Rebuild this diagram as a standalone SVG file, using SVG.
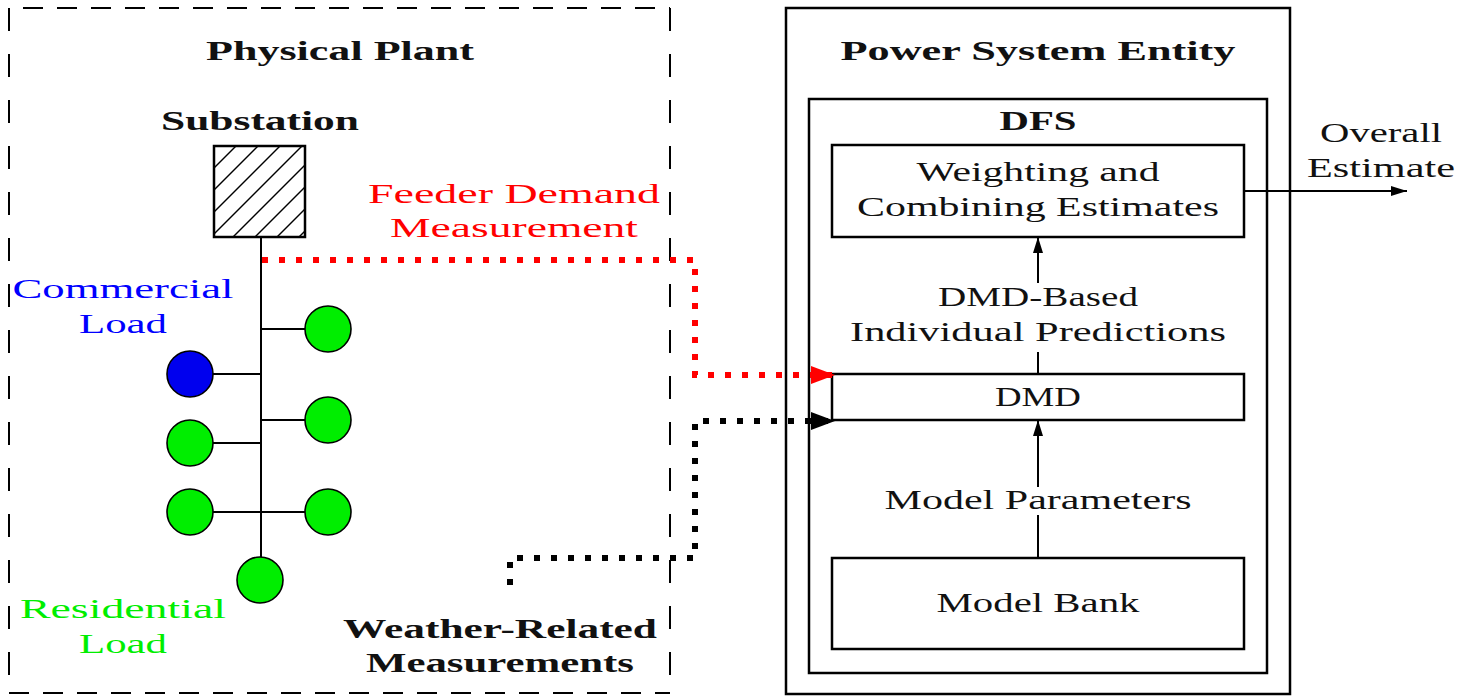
<svg xmlns="http://www.w3.org/2000/svg" width="1461" height="699" viewBox="0 0 1461 699">
<style>
text{font-family:"Liberation Serif","Times New Roman",serif;font-size:27px;text-anchor:middle;fill:#111}
.b{font-weight:bold}
.box{fill:none;stroke:#000;stroke-width:2.5}
.ln{fill:none;stroke:#000;stroke-width:2}
.g{fill:#00ee00;stroke:#000;stroke-width:1.6}
.bl{fill:#0000ee;stroke:#000;stroke-width:1.6}
.red{fill:none;stroke:#ff0000;stroke-width:6;stroke-dasharray:6 11}
.blk{fill:none;stroke:#000;stroke-width:6;stroke-dasharray:6 11}
</style>
<defs>
<marker id="ah" viewBox="0 0 16 10" refX="16" refY="5" markerWidth="16" markerHeight="10" markerUnits="userSpaceOnUse" orient="auto"><path d="M0,0 L16,5 L0,10 Z" fill="#000"/></marker>
<marker id="bigk" viewBox="0 0 24 18" refX="21" refY="9" markerWidth="24" markerHeight="18" markerUnits="userSpaceOnUse" orient="auto"><path d="M0,0 L24,9 L0,18 Z" fill="#000"/></marker>
<marker id="bigr" viewBox="0 0 24 18" refX="21" refY="9" markerWidth="24" markerHeight="18" markerUnits="userSpaceOnUse" orient="auto"><path d="M0,0 L24,9 L0,18 Z" fill="#ff0000"/></marker>
</defs>

<g id="physical-plant">
<line x1="9" y1="8" x2="670" y2="8" stroke="#000" stroke-width="2" stroke-dasharray="20 14" stroke-dashoffset="-14"/>
<line x1="9" y1="693" x2="670" y2="693" stroke="#000" stroke-width="2" stroke-dasharray="20 14"/>
<line x1="9" y1="8" x2="9" y2="693" stroke="#000" stroke-width="2" stroke-dasharray="23 23"/>
<line x1="670" y1="8" x2="670" y2="693" stroke="#000" stroke-width="2" stroke-dasharray="23 23"/>
<text class="b" x="340" y="60" textLength="268" lengthAdjust="spacingAndGlyphs">Physical Plant</text>
</g>

<g id="substation">
<text class="b" x="260" y="130" textLength="198" lengthAdjust="spacingAndGlyphs">Substation</text>
<rect x="214" y="146" width="91" height="91" class="box"/>
<g stroke="#000" stroke-width="1.4">
<line x1="214" y1="168" x2="236" y2="146"/>
<line x1="214" y1="190" x2="258" y2="146"/>
<line x1="214" y1="212" x2="280" y2="146"/>
<line x1="214" y1="234" x2="302" y2="146"/>
<line x1="233" y1="237" x2="305" y2="165"/>
<line x1="255" y1="237" x2="305" y2="187"/>
<line x1="277" y1="237" x2="305" y2="209"/>
<line x1="299" y1="237" x2="305" y2="231"/>
</g>
</g>

<g id="feeder">
<line x1="261" y1="237" x2="261" y2="558" class="ln"/>
<line x1="261" y1="329" x2="305" y2="329" class="ln"/>
<line x1="261" y1="420" x2="305" y2="420" class="ln"/>
<line x1="213" y1="512" x2="305" y2="512" class="ln"/>
<line x1="213" y1="374" x2="261" y2="374" class="ln"/>
<line x1="213" y1="443" x2="261" y2="443" class="ln"/>
</g>

<g id="loads">
<circle cx="328" cy="329" r="23" class="g"/>
<circle cx="328" cy="420" r="23" class="g"/>
<circle cx="328" cy="512" r="23" class="g"/>
<circle cx="190" cy="374" r="23" class="bl"/>
<circle cx="190" cy="443" r="23" class="g"/>
<circle cx="190" cy="512" r="23" class="g"/>
<circle cx="260" cy="580" r="23" class="g"/>
</g>

<g id="commercial-label">
<text x="123" y="298" style="fill:#0000ff" textLength="221" lengthAdjust="spacingAndGlyphs">Commercial</text>
<text x="123" y="333" style="fill:#0000ff" textLength="88" lengthAdjust="spacingAndGlyphs">Load</text>
</g>
<g id="residential-label">
<text x="123" y="618" style="fill:#00ee00" textLength="206" lengthAdjust="spacingAndGlyphs">Residential</text>
<text x="123" y="653" style="fill:#00ee00" textLength="88" lengthAdjust="spacingAndGlyphs">Load</text>
</g>
<g id="feeder-label">
<text x="514" y="203" style="fill:#ff0000" textLength="292" lengthAdjust="spacingAndGlyphs">Feeder Demand</text>
<text x="514" y="237" style="fill:#ff0000" textLength="248" lengthAdjust="spacingAndGlyphs">Measurement</text>
</g>
<g id="weather-label">
<text class="b" x="500" y="638" textLength="314" lengthAdjust="spacingAndGlyphs">Weather-Related</text>
<text class="b" x="500" y="672" textLength="268" lengthAdjust="spacingAndGlyphs">Measurements</text>
</g>

<g id="power-system-entity">
<rect x="786" y="8" width="504" height="686" class="box"/>
<text class="b" x="1038" y="60" textLength="395" lengthAdjust="spacingAndGlyphs">Power System Entity</text>
</g>
<g id="dfs">
<rect x="809" y="99" width="458" height="574" class="box"/>
<text class="b" x="1038" y="130" textLength="77" lengthAdjust="spacingAndGlyphs">DFS</text>
</g>
<g id="weighting">
<rect x="832" y="145" width="412" height="92" class="box"/>
<text x="1038" y="181" textLength="243" lengthAdjust="spacingAndGlyphs">Weighting and</text>
<text x="1038" y="216" textLength="362" lengthAdjust="spacingAndGlyphs">Combining Estimates</text>
</g>
<g id="dmd">
<rect x="832" y="374" width="412" height="46" class="box"/>
<text x="1038" y="406" textLength="86" lengthAdjust="spacingAndGlyphs">DMD</text>
</g>
<g id="model-bank">
<rect x="832" y="558" width="412" height="91" class="box"/>
<text x="1038" y="612" textLength="203" lengthAdjust="spacingAndGlyphs">Model Bank</text>
</g>

<g id="connectors">
<path d="M262,260 H695 V375 H832" class="red" marker-end="url(#bigr)"/>
<path d="M510,585 V558 H695 V421 H832" class="blk" marker-end="url(#bigk)"/>
<line x1="1038" y1="374" x2="1038" y2="352" class="ln"/>
<line x1="1038" y1="283" x2="1038" y2="237" class="ln" marker-end="url(#ah)"/>
<line x1="1038" y1="558" x2="1038" y2="515" class="ln"/>
<line x1="1038" y1="487" x2="1038" y2="420" class="ln" marker-end="url(#ah)"/>
<line x1="1244" y1="191" x2="1407" y2="191" class="ln" marker-end="url(#ah)"/>
<text x="1038" y="306" textLength="200" lengthAdjust="spacingAndGlyphs">DMD-Based</text>
<text x="1038" y="341" textLength="376" lengthAdjust="spacingAndGlyphs">Individual Predictions</text>
<text x="1038" y="509" textLength="307" lengthAdjust="spacingAndGlyphs">Model Parameters</text>
<text x="1381" y="142" textLength="122" lengthAdjust="spacingAndGlyphs">Overall</text>
<text x="1381" y="177" textLength="148" lengthAdjust="spacingAndGlyphs">Estimate</text>
</g>
</svg>
